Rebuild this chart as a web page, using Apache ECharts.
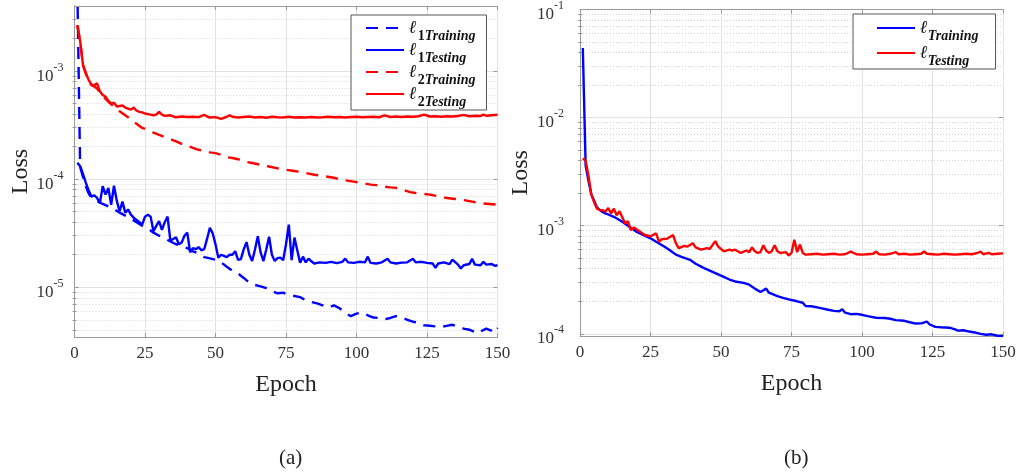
<!DOCTYPE html>
<html><head><meta charset="utf-8">
<script src="https://cdn.jsdelivr.net/npm/echarts@6/dist/echarts.min.js"></script>
<style>html,body{margin:0;padding:0;background:#fff}#c{width:1021px;height:472px}</style>
</head><body><div id="c"></div>
<script>
// ---------------- data (loss values) ----------------
const epochTicks = [0, 25, 50, 75, 100, 125, 150];
const aDecades = [-5, -4, -3];          // tick labels 10^-5 .. 10^-3 (panel a)
const bDecades = [-4, -3, -2, -1];      // tick labels 10^-4 .. 10^-1 (panel b)
const aLegendNames = ['ℓ1 Training', 'ℓ1 Testing', 'ℓ2 Training', 'ℓ2 Testing'];
const bLegendNames = ['ℓ Training', 'ℓ Testing'];
const panelLabels = ['(a)', '(b)'];

const a_l1Train = [[1,6e-3],[2,1.3e-4],[3,1.05e-4],[4,8.6e-5],[5,7.4e-5],[6,6.7e-5],[8,6.3e-5],[10,5.9e-5],[12,5.6e-5],[14,5.3e-5],[16,4.9e-5],[18,4.6e-5],[20,4.3e-5],[22,4.0e-5],[24,3.7e-5],[26,3.5e-5],[28,3.2e-5],[30,3.0e-5],[32,2.85e-5],[34,2.65e-5],[36,2.5e-5],[38,2.4e-5],[40,2.3e-5],[42,2.15e-5],[44,2.05e-5],[46,1.9e-5],[48,1.85e-5],[50,1.8e-5],[52,1.7e-5],[54,1.55e-5],[56,1.42e-5],[58,1.34e-5],[60,1.22e-5],[62,1.1e-5],[64,1.05e-5],[66,1.02e-5],[68,9.8e-6],[70,9.2e-6],[72,8.8e-6],[74,8.9e-6],[76,8.5e-6],[78,8.3e-6],[80,8.1e-6],[82,7.6e-6],[84,7.3e-6],[86,7.1e-6],[88,6.8e-6],[90,6.5e-6],[92,6.8e-6],[94,6.4e-6],[96,5.8e-6],[98,5.4e-6],[100,5.7e-6],[102,5.85e-6],[104,5.5e-6],[106,5.25e-6],[108,5.2e-6],[110,5.05e-6],[112,5.2e-6],[114,5.4e-6],[116,5.3e-6],[118,5.0e-6],[120,4.8e-6],[122,4.7e-6],[124,4.45e-6],[126,4.4e-6],[128,4.35e-6],[130,4.3e-6],[132,4.4e-6],[134,4.5e-6],[136,4.3e-6],[138,4.15e-6],[140,4.05e-6],[142,3.85e-6],[143,3.75e-6],[144,3.9e-6],[146,4.15e-6],[148,3.95e-6],[149,3.8e-6],[150,4.2e-6]];

const a_l1Test = [[1,1.42e-4],[2,1.32e-4],[3,1.12e-4],[4,9.3e-5],[5,7.9e-5],[6,6.9e-5],[7,7.1e-5],[8,6.7e-5],[9,6.0e-5],[10,8.6e-5],[11,7.2e-5],[12,8.3e-5],[13,5.8e-5],[14,8.7e-5],[15,6.3e-5],[16,5.05e-5],[17,6.2e-5],[18,4.9e-5],[19,5.25e-5],[20,4.7e-5],[21,4.4e-5],[22,4.2e-5],[23,4.0e-5],[24,3.8e-5],[25,4.5e-5],[26,4.7e-5],[27,4.5e-5],[28,3.3e-5],[29,3.7e-5],[30,4.1e-5],[31,3.4e-5],[32,4.0e-5],[33,4.5e-5],[34,2.7e-5],[35,2.8e-5],[36,2.9e-5],[37,2.5e-5],[38,2.6e-5],[39,3.0e-5],[40,3.2e-5],[41,2.1e-5],[42,2.3e-5],[43,2.25e-5],[44,2.35e-5],[45,2.2e-5],[46,2.25e-5],[47,2.8e-5],[48,3.55e-5],[49,3.15e-5],[50,2.5e-5],[51,1.88e-5],[52,2.0e-5],[53,1.95e-5],[54,1.9e-5],[55,2.0e-5],[56,2.0e-5],[57,2.16e-5],[58,1.79e-5],[59,1.82e-5],[60,2.24e-5],[61,2.62e-5],[62,2.0e-5],[63,1.75e-5],[64,2.24e-5],[65,2.97e-5],[66,2.1e-5],[67,1.75e-5],[68,2.24e-5],[69,2.93e-5],[70,2.0e-5],[71,1.75e-5],[72,1.86e-5],[73,1.88e-5],[74,1.78e-5],[75,2.5e-5],[76,3.8e-5],[77,1.78e-5],[78,2.88e-5],[79,2.2e-5],[80,1.69e-5],[81,1.92e-5],[82,1.7e-5],[83,1.84e-5],[84,1.74e-5],[85,1.66e-5],[87,1.7e-5],[89,1.68e-5],[91,1.72e-5],[93,1.67e-5],[95,1.72e-5],[96,1.84e-5],[97,1.7e-5],[99,1.68e-5],[101,1.72e-5],[103,1.7e-5],[104,1.92e-5],[105,1.68e-5],[107,1.66e-5],[109,1.7e-5],[111,1.84e-5],[112,1.7e-5],[114,1.66e-5],[116,1.69e-5],[118,1.7e-5],[120,1.84e-5],[121,1.7e-5],[123,1.72e-5],[125,1.68e-5],[127,1.66e-5],[128,1.51e-5],[129,1.66e-5],[131,1.7e-5],[133,1.64e-5],[134,1.8e-5],[136,1.62e-5],[137,1.49e-5],[138,1.6e-5],[140,1.64e-5],[141,1.83e-5],[142,1.62e-5],[144,1.6e-5],[145,1.72e-5],[146,1.62e-5],[148,1.64e-5],[149,1.58e-5],[150,1.6e-5]];

const a_l2Train = [[1,2.65e-3],[2,1.9e-3],[3,1.13e-3],[4,9.5e-4],[5,8.2e-4],[6,7.4e-4],[7,7.2e-4],[8,6.9e-4],[10,5.9e-4],[12,5.2e-4],[14,4.7e-4],[16,4.25e-4],[18,3.9e-4],[20,3.6e-4],[22,3.25e-4],[24,2.98e-4],[26,2.85e-4],[28,2.7e-4],[30,2.57e-4],[32,2.45e-4],[34,2.35e-4],[36,2.24e-4],[38,2.12e-4],[40,2.04e-4],[42,1.95e-4],[44,1.87e-4],[46,1.83e-4],[48,1.77e-4],[50,1.74e-4],[52,1.68e-4],[54,1.6e-4],[56,1.57e-4],[58,1.53e-4],[60,1.46e-4],[63,1.41e-4],[66,1.36e-4],[69,1.31e-4],[72,1.26e-4],[75,1.22e-4],[78,1.19e-4],[80,1.17e-4],[82,1.14e-4],[85,1.1e-4],[87,1.08e-4],[89,1.06e-4],[92,1.03e-4],[94,1.0e-4],[96,9.75e-5],[99,9.5e-5],[102,9.2e-5],[105,8.9e-5],[107,8.8e-5],[109,8.6e-5],[112,8.4e-5],[114,8.3e-5],[117,7.9e-5],[119,7.6e-5],[121,7.45e-5],[124,7.3e-5],[126,7.2e-5],[129,6.95e-5],[132,6.7e-5],[135,6.55e-5],[138,6.4e-5],[141,6.2e-5],[144,6.0e-5],[147,5.9e-5],[150,5.8e-5]];

const a_l2Test = [[1,2.65e-3],[2,1.9e-3],[3,1.15e-3],[4,9.6e-4],[5,8.3e-4],[6,7.5e-4],[7,7.4e-4],[8,7.7e-4],[9,6.5e-4],[10,6.0e-4],[11,5.8e-4],[12,5.3e-4],[13,5.0e-4],[14,5.1e-4],[15,4.7e-4],[16,4.75e-4],[17,4.8e-4],[18,4.6e-4],[19,4.5e-4],[20,4.4e-4],[21,4.6e-4],[22,4.3e-4],[23,4.2e-4],[24,4.15e-4],[25,4.05e-4],[26,4.0e-4],[27,3.95e-4],[28,3.9e-4],[29,3.95e-4],[30,4.2e-4],[31,3.95e-4],[32,3.85e-4],[34,3.9e-4],[35,3.8e-4],[36,3.74e-4],[38,3.8e-4],[40,3.76e-4],[42,3.78e-4],[44,3.75e-4],[46,3.94e-4],[47,3.8e-4],[48,3.72e-4],[50,3.75e-4],[52,3.62e-4],[54,3.78e-4],[55,3.9e-4],[56,3.78e-4],[58,3.72e-4],[60,3.76e-4],[62,3.8e-4],[64,3.72e-4],[66,3.76e-4],[68,3.7e-4],[70,3.78e-4],[72,3.74e-4],[74,3.72e-4],[76,3.78e-4],[78,3.72e-4],[80,3.74e-4],[82,3.72e-4],[84,3.76e-4],[86,3.72e-4],[88,3.74e-4],[90,3.78e-4],[92,3.74e-4],[94,3.76e-4],[96,3.72e-4],[98,3.76e-4],[100,3.78e-4],[102,3.74e-4],[104,3.76e-4],[106,3.78e-4],[108,3.74e-4],[110,3.9e-4],[112,3.76e-4],[114,3.8e-4],[116,3.76e-4],[118,3.8e-4],[120,3.78e-4],[122,3.82e-4],[124,3.95e-4],[126,3.8e-4],[128,3.82e-4],[130,3.78e-4],[132,3.82e-4],[134,3.8e-4],[136,3.84e-4],[138,3.94e-4],[140,3.82e-4],[142,3.86e-4],[144,3.84e-4],[145,3.96e-4],[146,3.86e-4],[148,3.9e-4],[150,3.94e-4]];

const b_train = [[1,4.4e-2],[2,3.6e-3],[3,2.6e-3],[4,1.95e-3],[5,1.7e-3],[6,1.48e-3],[7,1.4e-3],[8,1.34e-3],[9,1.3e-3],[10,1.27e-3],[12,1.21e-3],[14,1.13e-3],[15,1.09e-3],[17,1.0e-3],[18,9.6e-4],[20,8.8e-4],[22,8.3e-4],[25,7.65e-4],[27,7.1e-4],[30,6.4e-4],[32,5.9e-4],[34,5.4e-4],[36,5.15e-4],[39,4.84e-4],[41,4.45e-4],[44,4.05e-4],[46,3.85e-4],[48,3.65e-4],[50,3.45e-4],[53,3.18e-4],[55,3.05e-4],[58,2.96e-4],[60,2.85e-4],[62,2.62e-4],[64,2.44e-4],[66,2.62e-4],[67,2.4e-4],[70,2.23e-4],[72,2.15e-4],[74,2.08e-4],[77,2.0e-4],[79,1.94e-4],[80,1.81e-4],[82,1.8e-4],[85,1.74e-4],[88,1.67e-4],[90,1.63e-4],[92,1.62e-4],[93,1.69e-4],[94,1.57e-4],[96,1.52e-4],[98,1.53e-4],[100,1.5e-4],[102,1.46e-4],[105,1.41e-4],[108,1.4e-4],[110,1.38e-4],[112,1.34e-4],[115,1.32e-4],[117,1.28e-4],[119,1.245e-4],[121,1.25e-4],[123,1.3e-4],[124,1.22e-4],[126,1.16e-4],[128,1.15e-4],[131,1.14e-4],[133,1.1e-4],[134,1.07e-4],[136,1.08e-4],[138,1.05e-4],[140,1.03e-4],[142,1.0e-4],[144,9.8e-5],[146,9.9e-5],[148,9.6e-5],[150,9.5e-5]];

const b_test = [[1,4.2e-3],[2,4.0e-3],[3,2.9e-3],[4,1.95e-3],[5,1.65e-3],[6,1.44e-3],[7,1.4e-3],[8,1.39e-3],[9,1.35e-3],[10,1.46e-3],[11,1.3e-3],[12,1.44e-3],[13,1.25e-3],[14,1.36e-3],[15,1.2e-3],[16,1.05e-3],[17,1.1e-3],[18,9.1e-4],[19,9.6e-4],[20,9.3e-4],[21,8.9e-4],[23,8.2e-4],[25,8.0e-4],[27,8.5e-4],[28,7.1e-4],[29,7.5e-4],[31,7.6e-4],[33,8.2e-4],[34,6.9e-4],[35,6.2e-4],[37,6.5e-4],[38,6.4e-4],[40,6.9e-4],[41,6.3e-4],[43,6.0e-4],[45,6.2e-4],[46,6.1e-4],[48,7.2e-4],[49,6.4e-4],[51,5.8e-4],[53,6.0e-4],[54,5.9e-4],[55,6.0e-4],[57,5.6e-4],[59,5.9e-4],[60,5.7e-4],[61,6.3e-4],[62,5.8e-4],[63,5.6e-4],[64,5.7e-4],[65,6.6e-4],[66,5.9e-4],[67,5.6e-4],[68,5.8e-4],[69,6.6e-4],[70,5.8e-4],[71,5.6e-4],[73,5.7e-4],[74,5.3e-4],[75,5.6e-4],[76,7.4e-4],[77,5.7e-4],[78,6.7e-4],[79,5.6e-4],[80,5.4e-4],[82,5.45e-4],[84,5.5e-4],[86,5.4e-4],[88,5.45e-4],[90,5.5e-4],[92,5.4e-4],[94,5.45e-4],[96,5.75e-4],[98,5.45e-4],[100,5.4e-4],[102,5.45e-4],[104,5.5e-4],[105,5.77e-4],[106,5.45e-4],[108,5.4e-4],[110,5.5e-4],[112,5.7e-4],[113,5.45e-4],[115,5.5e-4],[117,5.4e-4],[119,5.45e-4],[121,5.5e-4],[122,5.77e-4],[123,5.5e-4],[125,5.45e-4],[127,5.4e-4],[129,5.5e-4],[131,5.45e-4],[133,5.4e-4],[135,5.45e-4],[137,5.5e-4],[139,5.45e-4],[141,5.6e-4],[142,5.77e-4],[143,5.45e-4],[145,5.6e-4],[146,5.45e-4],[148,5.5e-4],[150,5.55e-4]];

// ---------------- chart ----------------
const SERIF = 'Liberation Serif, Times New Roman, serif';
const AXIS_C = '#9a9a9a';
const toLog = arr => arr.map(([e, v]) => [e, Math.log10(v)]);

const aRange = [-5.46, -2.398];
const bRange = [-4.02, -1.0];

function minorTicks(range) {
  const out = [];
  for (let n = Math.floor(range[0]) - 1; n <= Math.ceil(range[1]); n++) {
    for (let k = 2; k <= 9; k++) {
      const v = n + Math.log10(k);
      if (v > range[0] && v < range[1]) out.push(v);
    }
  }
  return out;
}

const expRich = {
  b: { fontFamily: SERIF, fontSize: 17, color: '#333', padding: [10, 0, 0, 0], verticalAlign: 'top' },
  s: { fontFamily: SERIF, fontSize: 12, color: '#333', padding: [4, 0, 0, 0], verticalAlign: 'top' }
};

function yAxes(gridIndex, range, decades, labelMargin, nameGap) {
  const minors = minorTicks(range);
  const base = { type: 'value', gridIndex, min: range[0], max: range[1], scale: true };
  return [
    Object.assign({}, base, {
      position: 'left',
      name: 'Loss', nameLocation: 'middle', nameGap,
      nameTextStyle: { fontFamily: SERIF, fontSize: 24, color: '#222' },
      axisLine: { show: true, lineStyle: { color: AXIS_C } },
      axisTick: { show: true, inside: true, length: 4, customValues: decades, lineStyle: { color: AXIS_C } },
      axisLabel: { customValues: decades, margin: labelMargin, formatter: v => '{b|10}{s|' + Math.round(v) + '}', rich: expRich },
      splitLine: { show: true, lineStyle: { color: '#e2e2e2', width: 1 } }
    }),
    Object.assign({}, base, {
      position: 'right',
      axisLine: { show: true, lineStyle: { color: AXIS_C } },
      axisTick: { show: true, inside: true, length: 2, customValues: minors, lineStyle: { color: AXIS_C } },
      axisLabel: { show: false },
      splitLine: { show: true, lineStyle: { color: '#d4d4d4', width: 1, type: [1, 2] } }
    }),
    Object.assign({}, base, {
      position: 'left',
      axisLine: { show: false },
      axisTick: { show: true, inside: true, length: 2, customValues: minors, lineStyle: { color: AXIS_C } },
      axisLabel: { show: false },
      splitLine: { show: false }
    }),
    Object.assign({}, base, {
      position: 'right',
      axisLine: { show: false },
      axisTick: { show: true, inside: true, length: 4, customValues: decades, lineStyle: { color: AXIS_C } },
      axisLabel: { show: false },
      splitLine: { show: false }
    })
  ];
}

function xAxes(gridIndex) {
  const base = { type: 'value', gridIndex, min: epochTicks[0], max: epochTicks[epochTicks.length - 1], interval: 25 };
  return [
    Object.assign({}, base, {
      position: 'bottom',
      name: 'Epoch', nameLocation: 'middle', nameGap: 36,
      nameTextStyle: { fontFamily: SERIF, fontSize: 24, color: '#222' },
      axisLine: { show: true, lineStyle: { color: AXIS_C } },
      axisTick: { show: true, inside: true, length: 4, lineStyle: { color: AXIS_C } },
      axisLabel: { margin: 8, fontFamily: SERIF, fontSize: 17, color: '#333' },
      splitLine: { show: true, lineStyle: { color: '#e2e2e2', width: 1 } }
    }),
    Object.assign({}, base, {
      position: 'top',
      axisLine: { show: true, lineStyle: { color: AXIS_C } },
      axisTick: { show: true, inside: true, length: 4, lineStyle: { color: AXIS_C } },
      axisLabel: { show: false },
      splitLine: { show: false }
    })
  ];
}

const legendRich = {
  l: { fontFamily: 'DejaVu Serif', fontSize: 18, fontWeight: 'bold', fontStyle: 'italic', color: '#111', lineHeight: 18, verticalAlign: 'top' },
  n: { fontFamily: SERIF, fontSize: 14, fontWeight: 'bold', color: '#111', lineHeight: 18, padding: [10, 0, 0, 1], verticalAlign: 'top' },
  s: { fontFamily: SERIF, fontSize: 14, fontWeight: 'bold', fontStyle: 'italic', color: '#111', lineHeight: 18, padding: [10, 0, 0, 0], verticalAlign: 'top' }
};
function legendFmt(name) {
  const rest = name.slice(1).split(' ');
  const num = rest.length > 1 ? rest[0] : '';
  const word = rest[rest.length - 1];
  return '{l|ℓ}' + (num ? '{n|' + num + '}' : '') + '{s|' + word + '}';
}

function line(name, data, color, dashed, xIdx, yIdx) {
  return {
    type: 'line', name, data: toLog(data), xAxisIndex: xIdx, yAxisIndex: yIdx,
    symbol: 'none', clip: true, z: 3,
    lineStyle: { color, width: 2.4, type: dashed ? [12, 8] : 'solid' },
    itemStyle: { color }
  };
}

const hiddenSymbol = { color: 'rgba(0,0,0,0)', borderWidth: 0, opacity: 0 };

const option = {
  animation: false,
  backgroundColor: '#fff',
  title: [
    { text: panelLabels[0], left: 274, top: 443, textStyle: { fontFamily: SERIF, fontSize: 21, fontWeight: 'normal', color: '#222' } },
    { text: panelLabels[1], left: 779, top: 443, textStyle: { fontFamily: SERIF, fontSize: 21, fontWeight: 'normal', color: '#222' } }
  ],
  grid: [
    { left: 74.5, top: 6, width: 423, height: 331, containLabel: false },
    { left: 580, top: 5, width: 423, height: 331, containLabel: false }
  ],
  xAxis: [...xAxes(0), ...xAxes(1)],
  yAxis: [...yAxes(0, aRange, aDecades, 11, 42), ...yAxes(1, bRange, bDecades, 16, 37)],
  legend: [
    { data: aLegendNames, orient: 'vertical', left: 351, top: 15, itemWidth: 38, itemHeight: 14, itemGap: -2,
      padding: [4, 11, 1, 14], borderColor: '#555', borderWidth: 1, backgroundColor: '#fff', borderRadius: 0,
      itemStyle: hiddenSymbol,
      formatter: legendFmt, textStyle: { rich: legendRich }, selectedMode: false },
    { data: bLegendNames, orient: 'vertical', left: 853, top: 14, itemWidth: 38, itemHeight: 14, itemGap: 1,
      padding: [5, 17, 1, 23], borderColor: '#555', borderWidth: 1, backgroundColor: '#fff', borderRadius: 0,
      itemStyle: hiddenSymbol,
      formatter: legendFmt, textStyle: { rich: legendRich }, selectedMode: false }
  ],
  series: [
    line(aLegendNames[0], a_l1Train, '#0000ff', true, 0, 0),
    line(aLegendNames[1], a_l1Test, '#0000ff', false, 0, 0),
    line(aLegendNames[2], a_l2Train, '#ff0000', true, 0, 0),
    line(aLegendNames[3], a_l2Test, '#ff0000', false, 0, 0),
    line(bLegendNames[0], b_train, '#0000ff', false, 2, 4),
    line(bLegendNames[1], b_test, '#ff0000', false, 2, 4)
  ]
};

const chart = echarts.init(document.getElementById('c'), null, { renderer: 'canvas' });
chart.setOption(option);
</script>
</body></html>
